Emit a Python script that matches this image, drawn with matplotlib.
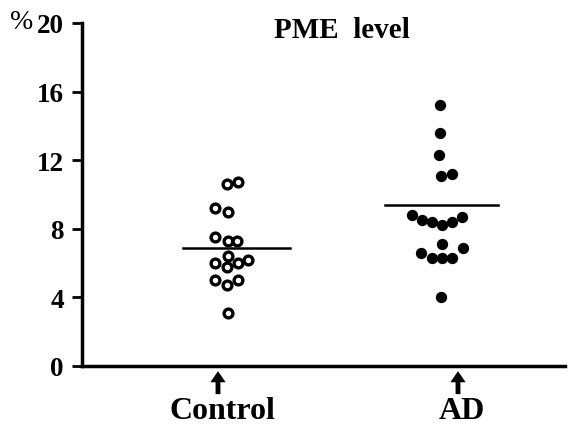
import matplotlib
matplotlib.use("Agg")
import matplotlib.pyplot as plt
import numpy as np

# Data
groups = ["Control", "AD"]
control_values = [10.6, 10.7, 9.2, 9.0, 7.5, 7.3, 7.3, 6.4, 6.0, 5.8, 6.0, 6.2, 5.0, 4.7, 5.0, 3.1]
control_jitter = [9, 20, -3, 10, -3, 10, 19, 10, -3, 9, 20, 30, -3, 9, 20, 10]
ad_values = [15.2, 13.6, 12.3, 11.1, 11.2, 8.8, 8.5, 8.4, 8.2, 8.4, 8.7, 7.1, 6.9, 6.6, 6.3, 6.3, 6.3, 4.0]
ad_jitter = [-18, -18, -19, -17, -6, -46, -36, -26, -16, -6, 4, -16, 5, -37, -26, -16, -6, -17]
means = [6.9, 9.4]
yticks = [0, 4, 8, 12, 16, 20]

plt.rcParams['font.family'] = ['Liberation Serif', 'DejaVu Serif']

fig = plt.figure(figsize=(5.83, 4.27), dpi=100)
ax = fig.add_axes([82/583, 1-367/427, (565-82)/583, (367-24)/427])

px = 1/240.0  # data units per pixel in x
xpos = [1, 2]

ax.scatter(xpos[0] + np.array(control_jitter)*px, control_values, s=40,
           facecolor='white', edgecolor='black', linewidth=2.4, zorder=3)
ax.scatter(xpos[1] + np.array(ad_jitter)*px, ad_values, s=44,
           facecolor='black', edgecolor='black', linewidth=1.5, zorder=3)

# mean lines
ax.plot([xpos[0]-35*px, xpos[0]+72*px], [means[0]]*2, color='black', lw=1.8)
ax.plot([xpos[1]-73*px, xpos[1]+40*px], [means[1]]*2, color='black', lw=1.8)

ax.set_xlim(1-(218-82)*px, 2+(565-458)*px)
ax.set_ylim(0, 20)
ax.set_yticks(yticks)
ax.set_yticklabels([str(t) for t in yticks], fontsize=19.5, fontweight='bold')
ax.set_xticks([])
ax.spines['top'].set_visible(False)
ax.spines['right'].set_visible(False)
ax.spines['left'].set_linewidth(2.5)
ax.spines['bottom'].set_linewidth(2.5)
ax.tick_params(axis='y', direction='out', length=7, width=2, pad=6)

ax.text(-0.126, 1.004, '%', transform=ax.transAxes, fontsize=20, ha='center', va='center')
ax.text(0.539, 0.982, 'PME  level', transform=ax.transAxes, fontsize=21,
        fontweight='bold', ha='center', va='center')

trans = ax.get_xaxis_transform()
for x, lab in zip(xpos, groups):
    ax.annotate('', xy=(x, -0.015), xytext=(x, -0.082), xycoords=trans, textcoords=trans,
                arrowprops=dict(width=3.5, headwidth=11, headlength=8, shrink=0,
                                facecolor='black', edgecolor='none'),
                annotation_clip=False)
    ax.text(x + 4*px, -0.13, lab, transform=trans, fontsize=23, fontweight='bold',
            ha='center', va='center')

fig.savefig('out.png', dpi=100, facecolor='white')
